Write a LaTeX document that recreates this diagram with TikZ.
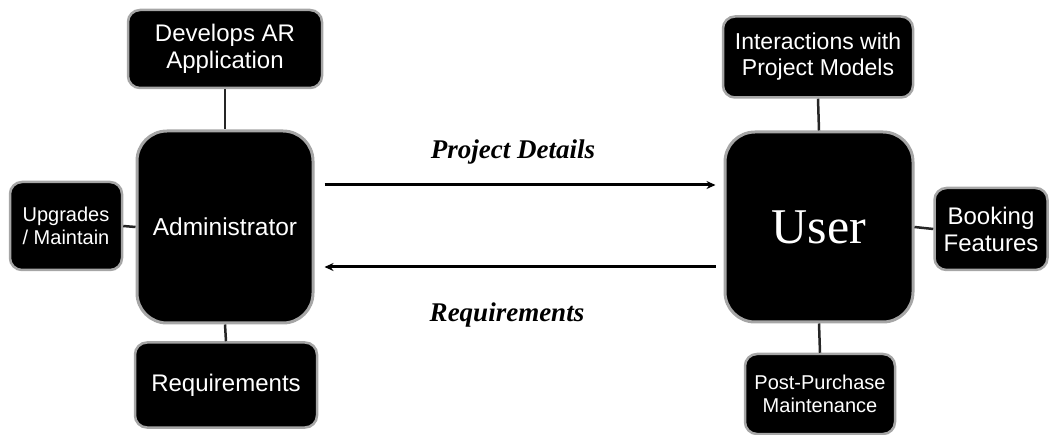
\documentclass[tikz,border=0pt]{standalone}
\usepackage{fontspec}
\setmainfont{Liberation Serif}
\setsansfont{Liberation Sans}
\usetikzlibrary{arrows.meta}

\begin{document}
\begin{tikzpicture}[x=1pt,y=-1pt,
    hub/.style={draw=gray!70,line width=3pt,fill=black,text=white,rounded corners=30pt,inner sep=0pt},
    task/.style={draw=gray!70,line width=2.5pt,fill=black,text=white,rounded corners=12pt,align=center,inner sep=0pt,font=\sffamily\fontsize{24}{27}\selectfont},
    minor/.style={task,font=\sffamily\fontsize{20}{23}\selectfont},
    link/.style={line width=2.5pt,draw=black!85},
    flow/.style={line width=3pt,-{Stealth[length=9pt,width=8pt]}},
    tag/.style={font=\bfseries\itshape\fontsize{27}{30}\selectfont}]

\useasboundingbox (0,0) rectangle (1049,435);

% Administrator side
\node[hub,minimum width=176pt,minimum height=192pt,font=\sffamily\fontsize{24.5}{27}\selectfont] (admin) at (225,227) {Administrator};
\node[task,minimum width=194pt,minimum height=78pt] (develops) at (225,49) {Develops AR\\Application};
\node[minor,minimum width=112pt,minimum height=88pt] (upgrades) at (66,226) {Upgrades\\/ Maintain};
\node[task,minimum width=182pt,minimum height=85pt] (reqs) at (226,385) {Requirements};

% User side
\node[hub,minimum width=188pt,minimum height=190pt,font=\fontsize{50}{55}\selectfont] (user) at (819,227) {User};
\node[task,minimum width=190pt,minimum height=81pt,font=\sffamily\fontsize{23}{26}\selectfont] (interact) at (818,57) {Interactions with\\Project Models};
\node[task,minimum width=113pt,minimum height=82pt] (booking) at (991,229) {Booking\\Features};
\node[minor,minimum width=150pt,minimum height=80pt] (aftercare) at (820,394) {Post-Purchase\\Maintenance};

% Links to the side boxes
\draw[link] (develops.south) -- (admin.north);
\draw[link] (upgrades.east) -- (admin.west);
\draw[link] (admin.south) -- (reqs.north);
\draw[link] (interact.south) -- (user.north);
\draw[link] (user.east) -- (booking.west);
\draw[link] (user.south) -- (aftercare.north);

% Exchange between the two
\draw[flow] ([xshift=10pt,yshift=42pt]admin.east) -- ([xshift=-8pt,yshift=42pt]user.west);
\draw[flow] ([xshift=-8pt,yshift=-40pt]user.west) -- ([xshift=10pt,yshift=-40pt]admin.east);
\node[tag] (detailslbl) at (513,152) {Project Details};
\node[tag] (reqslbl) at (507,315) {Requirements};

\end{tikzpicture}
\end{document}
